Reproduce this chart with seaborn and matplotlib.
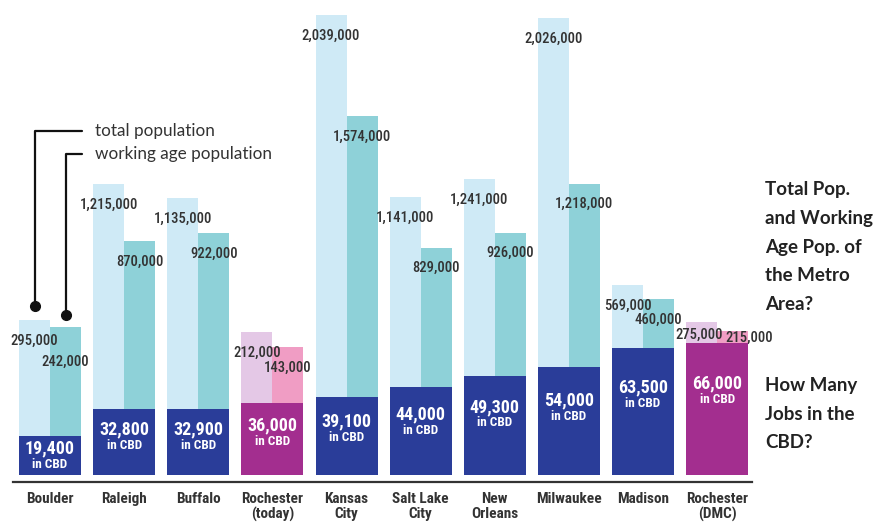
import numpy as np
import pandas as pd
import matplotlib
matplotlib.use("Agg")
import matplotlib.pyplot as plt
import matplotlib.transforms as mtransforms
from matplotlib import font_manager
import seaborn as sns

# ---------------- data ----------------
cities = ["Boulder", "Raleigh", "Buffalo", "Rochester\n(today)", "Kansas\nCity",
          "Salt Lake\nCity", "New\nOrleans", "Milwaukee", "Madison", "Rochester\n(DMC)"]
total_pop = [295000, 1215000, 1135000, 212000, 2039000, 1141000, 1241000, 2026000, 569000, 275000]
working_pop = [242000, 870000, 922000, 143000, 1574000, 829000, 926000, 1218000, 460000, 215000]
cbd_jobs = [19400, 32800, 32900, 36000, 39100, 44000, 49300, 54000, 63500, 66000]
rochester_idx = [3, 9]

# ---------------- styling ----------------
LIGHT = "#cfeaf6"
TEAL = "#8ed1d8"
NAVY = "#2a3d99"
PURPLE = "#a32e8f"
ROC_LIGHT = "#e4c8e6"
ROC_PINK = "#f09dc4"
TXT = "#333333"

sns.set_style("white")
names = set(font_manager.get_font_names())


def pick(*cands):
    for c in cands:
        if c in names:
            return c
    return "DejaVu Sans"


COND = pick("Roboto Condensed", "Liberation Sans Narrow", "DejaVu Sans Condensed", "Roboto")
GEO = pick("Lato", "Open Sans", "Noto Sans", "DejaVu Sans")
plt.rcParams["font.family"] = [COND, "DejaVu Sans"]

fig = plt.figure(figsize=(8.87, 5.23), dpi=100)
ax = fig.add_axes([13 / 887, 48 / 523, 739 / 887, 470 / 523])

df_pop = pd.DataFrame({
    "city": cities * 2,
    "kind": ["total"] * len(cities) + ["working"] * len(cities),
    "value": total_pop + working_pop,
})
W = 0.836
sns.barplot(data=df_pop, x="city", y="value", hue="kind", order=cities,
            hue_order=["total", "working"], palette=[LIGHT, TEAL], width=W,
            dodge=True, gap=0, saturation=1, errorbar=None, legend=False, ax=ax)
for i in rochester_idx:
    ax.containers[0][i].set_facecolor(ROC_LIGHT)
    ax.containers[1][i].set_facecolor(ROC_PINK)
for c in ax.containers:
    for p in c:
        p.set_edgecolor("none")


# infographic-style (non-linear) population axis
def _fwd(v):
    v = np.asarray(v, dtype=float)
    k = np.abs(v) / 1000.0
    return np.sign(v) * (125 * (1 - np.exp(-k / 60.0)) + 0.0958 * k + 3.357e-5 * k ** 2)


_grid = np.linspace(0, 4e6, 40001)
_gv = _fwd(_grid)


def _inv(y):
    y = np.asarray(y, dtype=float)
    return np.sign(y) * np.interp(np.abs(y), _gv, _grid)


ax.set_yscale("function", functions=(_fwd, _inv))

# jobs on a twin axis
tw = ax.twinx()
df_jobs = pd.DataFrame({"city": cities, "jobs": cbd_jobs})
jcols = {c: (PURPLE if i in rochester_idx else NAVY) for i, c in enumerate(cities)}
sns.barplot(data=df_jobs, x="city", y="jobs", hue="city", order=cities, hue_order=cities,
            palette=jcols, width=W, saturation=1, errorbar=None, legend=False, ax=tw)
for p in tw.patches:
    p.set_edgecolor("none")

half = W / 4
# label nudges (offset points) where the hand-placed labels differ
tot_off = {9: (-2, -9)}
work_off = {0: (0, -25), 9: (12, -5)}
for i in range(len(cities)):
    ax.annotate(f"{total_pop[i]:,}", xy=(i - half, total_pop[i]),
                xytext=tot_off.get(i, (0, -15)),
                textcoords="offset points", ha="center", va="center",
                fontsize=10.5, color=TXT, fontweight="medium")
    ax.annotate(f"{working_pop[i]:,}", xy=(i + half, working_pop[i]),
                xytext=work_off.get(i, (0, -15)),
                textcoords="offset points", ha="center", va="center",
                fontsize=10.5, color=TXT, fontweight="medium")

# jobs labels
for i in range(len(cities)):
    y = cbd_jobs[i] * 0.69
    tw.text(i, y, f"{cbd_jobs[i]:,}", ha="center", va="center", color="white",
            fontsize=13, fontweight="bold")
    tw.annotate("in CBD", xy=(i, y), xytext=(0, -11.5), textcoords="offset points",
                ha="center", va="center", color="white", fontsize=9.5, fontweight="bold")

# legend call-outs
for (lab, xpos, val, ty, off) in [("total population", -half, total_pop[0], 0.731, 10),
                                  ("working age population", half, working_pop[0], 0.682, 9)]:
    ax.annotate(lab, xy=(xpos, val), xycoords="data", xytext=(0.111, ty),
                textcoords="axes fraction", ha="left", va="center", fontsize=12.3,
                family=[GEO, "DejaVu Sans"], color="#333333",
                arrowprops=dict(arrowstyle="-", connectionstyle="angle,angleA=0,angleB=90,rad=0",
                                relpos=(0, 0.5), shrinkA=7, shrinkB=off, lw=1.6, color="#111111"))
    tr = ax.transData + mtransforms.ScaledTranslation(0, off / 72, fig.dpi_scale_trans)
    ax.plot([xpos], [val], "o", color="#111111", markersize=7, transform=tr,
            scalex=False, scaley=False, clip_on=False)

# axes cosmetics
ax.set_xlim(-0.5, 9.47)
ax.set_ylim(0, float(_inv(470.0)))
tw.set_ylim(0, 235000)
tw.set_xlim(-0.5, 9.47)
for a in (ax, tw):
    for s in ["top", "right", "left"]:
        a.spines[s].set_visible(False)
    a.set_ylabel("")
    a.set_xlabel("")
    a.set_yticks([])
tw.spines["bottom"].set_visible(False)
ax.spines["bottom"].set_position(("outward", 5))
ax.spines["bottom"].set_linewidth(1.6)
ax.spines["bottom"].set_color("#333333")
ax.set_xticks(range(len(cities)))
ax.set_xticklabels(cities, fontsize=11, fontweight="bold", color="#333333", linespacing=1.1)
ax.tick_params(axis="x", length=0, pad=7)
tw.tick_params(axis="x", length=0, labelbottom=False)

# right-hand questions
for lines, y0 in [(["Total Pop.", "and Working", "Age Pop. of", "the Metro", "Area?"], 190),
                  (["How Many", "Jobs in the", "CBD?"], 386)]:
    for k, t in enumerate(lines):
        fig.text(765 / 887, 1 - (y0 + 28.5 * k) / 523, t, ha="left", va="center",
                 fontsize=13.5, fontweight="bold", color="#222222", family=[GEO, "DejaVu Sans"])

fig.savefig("out.png", dpi=100)
